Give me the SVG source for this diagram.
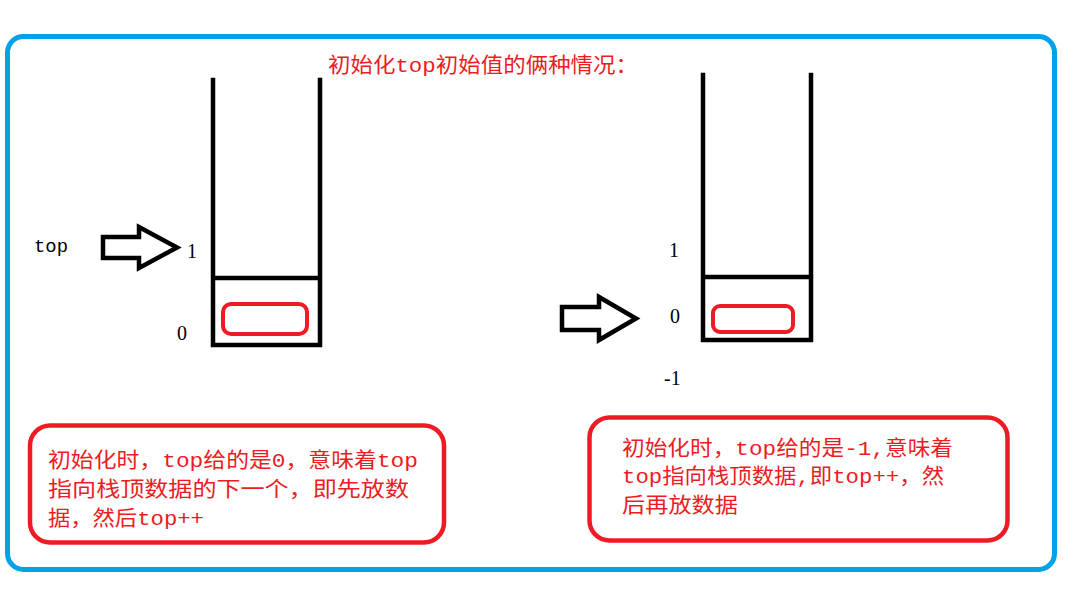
<svg xmlns="http://www.w3.org/2000/svg" width="1073" height="590" viewBox="0 0 1073 590">
<style>
.frame{fill:none;stroke:#00a2e8;stroke-width:5}
.stk{fill:none;stroke:#000;stroke-width:4.5;stroke-linecap:square}
.cell{fill:none;stroke:#ed1c24;stroke-width:4}
.note{fill:none;stroke:#ed1c24;stroke-width:4.5}
.arr{fill:#fff;stroke:#000;stroke-width:4.5;stroke-linejoin:miter}
.red{fill:#ed1c24;font-family:"Liberation Mono","Noto Sans CJK SC",monospace;font-size:21px}
.num{fill:#000;font-family:"Liberation Serif",serif;font-size:20px}
.lbl{fill:#000;font-family:"Liberation Mono",monospace;font-size:18px}
</style>
<rect class="frame" x="7.5" y="36.5" width="1047" height="533" rx="16"/>
<text class="red" x="328" y="72" textLength="310" lengthAdjust="spacingAndGlyphs">初始化top初始值的俩种情况：</text>

<g id="stack-left">
<path class="stk" d="M213 80 V345 H320 V80 M213 278 H320"/>
<rect class="cell" x="223" y="304" width="84" height="30" rx="8"/>
<text class="num" x="187" y="258">1</text>
<text class="num" x="177" y="340">0</text>
</g>
<g id="pointer-left">
<text class="lbl" x="34" y="252" textLength="34" lengthAdjust="spacingAndGlyphs">top</text>
</g>

<g id="stack-right">
<path class="stk" d="M703 75 V340 H811 V75 M703 277 H811"/>
<rect class="cell" x="713" y="306" width="80" height="26" rx="7"/>
<text class="num" x="669" y="257">1</text>
<text class="num" x="670" y="323">0</text>
<text class="num" x="664" y="385">-1</text>
</g>

<g id="connectors">
<path class="arr" d="M103 237 H139 V227 L177 247.5 L139 268 V258 H103 Z"/>
<path class="arr" d="M562 307 H599 V297 L636 318.5 L599 340 V330 H562 Z"/>
</g>

<g id="note-left">
<rect class="note" x="30" y="425.5" width="414" height="117" rx="20"/>
<text class="red" x="48" y="467" textLength="370" lengthAdjust="spacingAndGlyphs">初始化时，top给的是0，意味着top</text>
<text class="red" x="48" y="496" textLength="361" lengthAdjust="spacingAndGlyphs">指向栈顶数据的下一个，即先放数</text>
<text class="red" x="48" y="525" textLength="156" lengthAdjust="spacingAndGlyphs">据，然后top++</text>
</g>

<g id="note-right">
<rect class="note" x="589.5" y="417.5" width="418" height="123" rx="20"/>
<text class="red" x="622" y="455" textLength="331" lengthAdjust="spacingAndGlyphs">初始化时，top给的是-1,意味着</text>
<text class="red" x="622" y="483" textLength="322" lengthAdjust="spacingAndGlyphs">top指向栈顶数据,即top++，然</text>
<text class="red" x="622" y="512" textLength="116" lengthAdjust="spacingAndGlyphs">后再放数据</text>
</g>
</svg>
